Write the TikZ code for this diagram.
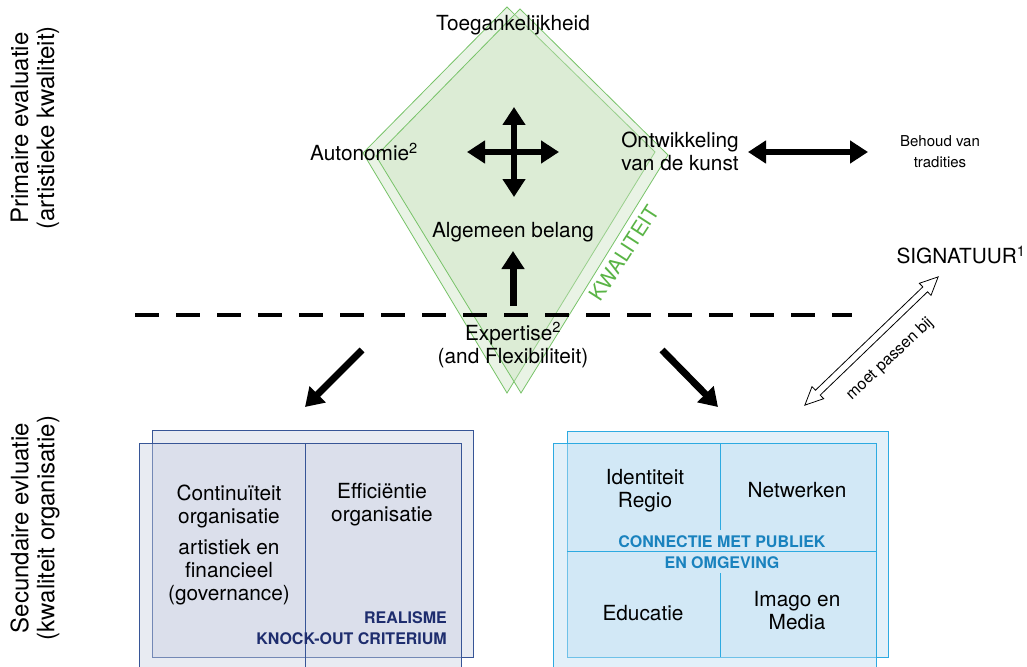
\documentclass[tikz,border=0pt]{standalone}
\usepackage{fontspec}
\setmainfont{TeX Gyre Heros}
\usetikzlibrary{arrows.meta,shapes.arrows}

\definecolor{kiteline}{RGB}{120,195,105}
\definecolor{kitefill}{RGB}{200,225,190}
\definecolor{kwgreen}{RGB}{90,180,70}
\definecolor{orgline}{RGB}{55,85,150}
\definecolor{orgfill}{RGB}{200,207,225}
\definecolor{orgtext}{RGB}{30,45,110}
\definecolor{publine}{RGB}{45,170,225}
\definecolor{pubfill}{RGB}{190,222,242}
\definecolor{pubtext}{RGB}{25,130,190}

\newcommand{\fsbig}{\fontsize{20.8}{23}\selectfont}
\newcommand{\fsside}{\fontsize{24}{26}\selectfont}
\newcommand{\fsmid}{\fontsize{16}{21}\selectfont}
\newcommand{\fssmall}{\fontsize{15}{21}\selectfont}

\begin{document}
\begin{tikzpicture}[x=1pt, y=-1pt]%
            \tikzstyle{lbl}=[inner sep=0pt, align=center, font=\fsbig];%
            \tikzstyle{kite}=[draw=kiteline, line width=0.8pt, fill=kitefill, fill opacity=0.4];%
            \tikzstyle{orgbox}=[draw=orgline, line width=0.9pt, fill=orgfill, fill opacity=0.42];%
            \tikzstyle{pubbox}=[draw=publine, line width=0.9pt, fill=pubfill, fill opacity=0.45];%
            \tikzstyle{caps}=[inner sep=0pt, align=right, font=\fsmid\bfseries];%
            \tikzstyle{fat}=[line width=7pt, -{Triangle[length=18pt, width=22pt]}];%
            \tikzstyle{fatboth}=[line width=6.5pt, {Triangle[length=18pt, width=22pt]}-{Triangle[length=18pt, width=22pt]}];%
            \tikzstyle{hollow}=[shape=double arrow, draw, line width=0.8pt, fill=white, inner sep=3pt,
                double arrow head extend=5pt, double arrow tip angle=50, sloped];%
            \useasboundingbox (0,0) rectangle (1027,666);

            \draw[kite] (507,7) -- (363,153) -- (507,393) -- (655,152) -- cycle;
            \draw[kite] (520,9) -- (376,156) -- (521,393) -- (668,155) -- cycle;

            \draw[orgbox] (152,430) rectangle (473,657);
            \draw[orgbox] (139,443) rectangle (461,680);
            \draw[orgline, line width=0.9pt] (305,443) -- (305,680);

            \draw[pubbox] (567,431) rectangle (888,657);
            \draw[pubbox] (553,443) rectangle (876,680);
            \draw[publine, line width=0.9pt] (567,551) -- (876,551);
            \draw[publine, line width=0.9pt] (720,443) -- (720,530) (720,573) -- (720,657);

            \node (0) at (513,25) [lbl] {Toegankelijkheid};
            \node (1) at (364,152) [lbl] {Autonomie\textsuperscript{2}};
            \node (2) at (680,151) [lbl] {Ontwikkeling\\van de kunst};
            \node (3) at (940,152) [lbl, font=\fssmall] {Behoud van\\tradities};
            \node (4) at (513,232) [lbl] {Algemeen belang};
            \node (5) at (961,255) [lbl] {SIGNATUUR\textsuperscript{1}};
            \node (6) at (513,345) [lbl] {Expertise\textsuperscript{2}\\(and Flexibiliteit)};
            \node (7) at (624,253) [lbl, rotate=57, text=kwgreen] {KWALITEIT};

            \node (8) at (35,128) [lbl, rotate=90, font=\fsside] {Primaire evaluatie\\(artistieke kwaliteit)};
            \node (9) at (35,528) [lbl, rotate=90, font=\fsside] {Secundaire evluatie\\(kwaliteit organisatie)};

            \node (10) at (229,506) [lbl] {Continuïteit\\organisatie};
            \node (11) at (229,572) [lbl] {artistiek en\\financieel\\(governance)};
            \node (12) at (382,505) [lbl] {Efficiëntie\\organisatie};
            \node (13) [caps, text=orgtext, anchor=east] at (447,628) {REALISME\\KNOCK-OUT CRITERIUM};

            \node (14) at (645,491) [lbl] {Identiteit\\Regio};
            \node (15) at (797,490) [lbl] {Netwerken};
            \node (16) at (722,552) [caps, align=center, text=pubtext] {CONNECTIE MET PUBLIEK\\EN OMGEVING};
            \node (17) at (643,613) [lbl] {Educatie};
            \node (18) at (797,611) [lbl] {Imago en\\Media};

            \coordinate (n) at (514,107);
            \coordinate (s) at (514,197);
            \coordinate (w) at (467,152);
            \coordinate (e) at (559,152);
            \draw (n) edge[fatboth] (s);
            \draw (w) edge[fatboth] (e);

            \coordinate (tl) at (748,152);
            \coordinate (tr) at (868,152);
            \draw (tl) edge[fatboth] (tr);

            \coordinate (u) at (513,306);
            \coordinate (ut) at (513,251);
            \draw (u) edge[fat] (ut);

            \coordinate (d1) at (135,315);
            \coordinate (d2) at (852,315);
            \draw[line width=3.5pt, dash pattern=on 24pt off 17pt] (d1) -- (d2);

            \coordinate (la) at (362,350);
            \coordinate (lb) at (305,407);
            \draw (la) edge[fat] (lb);
            \coordinate (ra) at (662,350);
            \coordinate (rb) at (718,407);
            \draw (ra) edge[fat] (rb);

            \coordinate (p) at (805,405);
            \coordinate (q) at (938,277);
            \path (p) -- node[hollow, minimum height=185pt] {} (q);
            \node (19) at (890,359) [lbl, rotate=43, font=\fsmid] {moet passen bij};
        \end{tikzpicture}
\end{document}
